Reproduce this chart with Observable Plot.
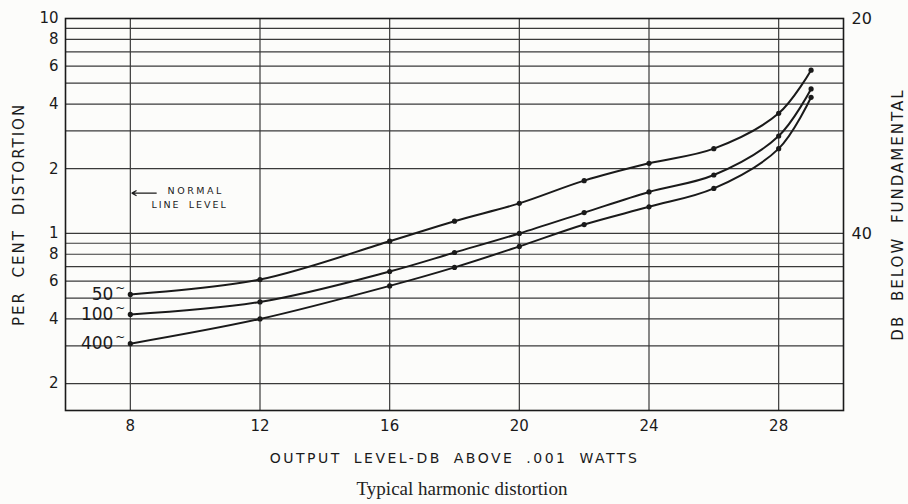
<!DOCTYPE html>
<html><head><meta charset="utf-8">
<script src="https://cdn.jsdelivr.net/npm/d3@7"></script>
<script src="https://cdn.jsdelivr.net/npm/@observablehq/plot@0.6"></script>
<style>
body{margin:0;background:#fcfcfa;}
#caption{font-family:"Liberation Serif","DejaVu Serif",serif;font-size:19px;text-align:center;width:908px;box-sizing:border-box;padding-left:16px;color:#222;padding-top:0px;line-height:22px;}
</style></head><body><div id="chart"></div><div id="caption">Typical harmonic distortion</div>
<script>
// Output level (dB above .001 W) at which points were measured
const levels = [8, 12, 16, 18, 20, 22, 24, 26, 28, 29];
// Per cent distortion for each fundamental frequency
const dist50  = [0.52, 0.61, 0.92, 1.14, 1.38, 1.76, 2.12, 2.48, 3.62, 5.75];
const dist100 = [0.42, 0.48, 0.665, 0.815, 1.0, 1.25, 1.56, 1.87, 2.84, 4.7];
const dist400 = [0.307, 0.40, 0.57, 0.695, 0.87, 1.1, 1.33, 1.62, 2.48, 4.3];
const seriesNames = ["50", "100", "400"];
// Axis ticks and labels
const xTicks = [8, 12, 16, 20, 24, 28];
const yGrid = [0.2, 0.3, 0.4, 0.5, 0.6, 0.7, 0.8, 0.9, 1, 2, 3, 4, 5, 6, 7, 8, 9, 10];
const yTickValues = [10, 8, 6, 4, 2, 1, 0.8, 0.6, 0.4, 0.2];
const yTickLabels = ["10", "8", "6", "4", "2", "1", "8", "6", "4", "2"];
const rightTickValues = [10, 1];
const rightTickLabels = ["20", "40"];
const xTitle = "OUTPUT LEVEL-DB ABOVE .001 WATTS";
const yTitle = "PER CENT DISTORTION";
const y2Title = "DB BELOW FUNDAMENTAL";
const noteLines = ["NORMAL", "LINE LEVEL"];

const seriesValues = [dist50, dist100, dist400];
const rows = seriesNames.flatMap((s, k) => levels.map((x, i) => ({x, y: seriesValues[k][i], s})));
const labelRows = seriesNames.map((s, k) => ({x: levels[0], y: seriesValues[k][0], s}));
const leftTicks = yTickValues.map((v, i) => ({v, t: yTickLabels[i]}));
const rightTicks = rightTickValues.map((v, i) => ({v, t: rightTickLabels[i]}));

const ink = "#1a1a1a";
const sans = "'DejaVu Sans',sans-serif";
const plot = Plot.plot({
  width: 908,
  height: 478,
  marginLeft: 65,
  marginRight: 65,
  marginTop: 18,
  marginBottom: 68,
  style: {fontFamily: sans, fontSize: "14px", color: ink, background: "transparent"},
  x: {domain: [6, 30]},
  y: {type: "log", domain: [0.15, 10], axis: null},
  marks: [
    Plot.ruleY(yGrid, {stroke: "#3a3a3a", strokeWidth: 1.2}),
    Plot.ruleX(xTicks, {stroke: "#3a3a3a", strokeWidth: 1.2}),
    Plot.frame({stroke: ink, strokeWidth: 1.6}),
    Plot.axisX({ticks: xTicks, tickSize: 0, tickPadding: 10, label: null, fontSize: 15}),
    Plot.text(leftTicks, {y: "v", text: "t", frameAnchor: "left", textAnchor: "end", dx: -7, fontSize: 15, fill: ink}),
    Plot.text(rightTicks, {y: "v", text: "t", frameAnchor: "right", textAnchor: "start", dx: 8, fontSize: 16, fill: ink}),
    Plot.line(rows, {x: "x", y: "y", z: "s", curve: "catmull-rom", stroke: ink, strokeWidth: 2}),
    Plot.dot(rows, {x: "x", y: "y", r: 2.6, fill: ink, stroke: "none"}),
    Plot.text(labelRows, {x: "x", y: "y", text: "s", textAnchor: "end", dx: -17, fontSize: 17, fill: ink}),
    Plot.text(labelRows, {x: "x", y: "y", text: () => "~", dx: -10, dy: -6, fontSize: 12, fill: ink}),
    Plot.arrow([0], {x1: 8.8, y1: 1.54, x2: 8.05, y2: 1.54, stroke: ink, strokeWidth: 1.2, headLength: 6}),
    Plot.text([noteLines[0]], {x: 9.15, y: 1.57, text: d => d, textAnchor: "start", fontSize: 9.5, fill: ink}),
    Plot.text([noteLines[1]], {x: 8.65, y: 1.35, text: d => d, textAnchor: "start", fontSize: 9.5, fill: ink}),
    Plot.text([xTitle], {frameAnchor: "bottom", textAnchor: "middle", dy: 52, text: d => d, fontSize: 14, fill: ink}),
    Plot.text([yTitle], {frameAnchor: "left", textAnchor: "middle", dx: -46, rotate: -90, text: d => d, fontSize: 15, fill: ink}),
    Plot.text([y2Title], {frameAnchor: "right", textAnchor: "middle", dx: 55, rotate: -90, text: d => d, fontSize: 15, fill: ink})
  ]
});
const spacing = {[xTitle]: ["2.5px", "5px"], [yTitle]: ["2px", "7px"], [y2Title]: ["2px", "7px"], [noteLines[0]]: ["2.5px", "0px"], [noteLines[1]]: ["2px", "3px"]};
d3.select(plot).selectAll("text").each(function() {
  const s = spacing[this.textContent];
  if (s) d3.select(this).attr("letter-spacing", s[0]).attr("word-spacing", s[1]);
});
document.getElementById("chart").appendChild(plot);
</script>
</body></html>
